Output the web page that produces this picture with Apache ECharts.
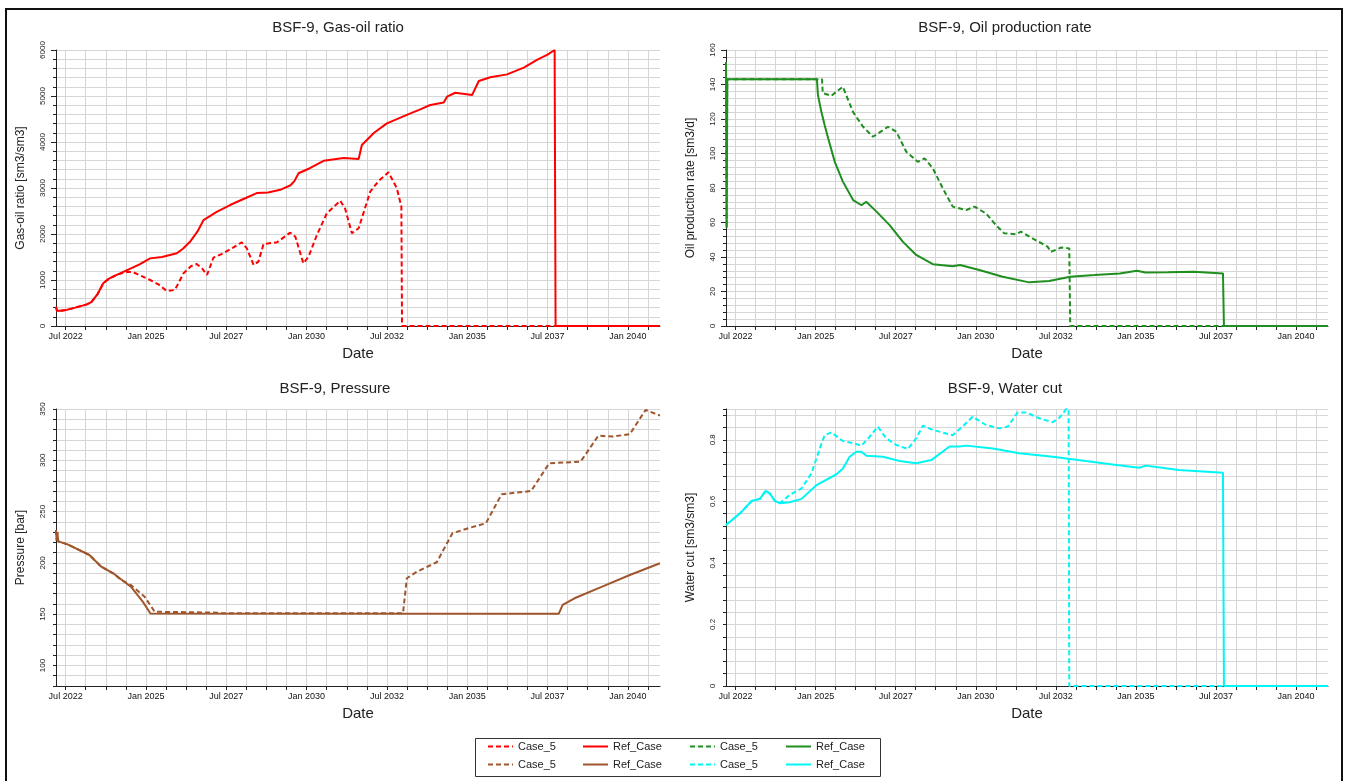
<!DOCTYPE html>
<html>
<head>
<meta charset="utf-8">
<title>BSF-9</title>
<script src="https://cdn.jsdelivr.net/npm/echarts@6/dist/echarts.min.js"></script>
<style>
  html, body { margin: 0; padding: 0; background: #fff; }
  #main { width: 1348px; height: 781px; }
</style>
</head>
<body>
<div id="main"></div>
<script>
// x values are decimal years (Jan = .0, Jul = .5)
const xMin = 2022.2
const xMax = 2041
const xLabelValues = [2022.5, 2025, 2027.5, 2030, 2032.5, 2035, 2037.5, 2040]

// Gas-oil ratio [sm3/sm3]
const gorRef = [
  [2022.2, 420], [2022.23, 330], [2022.35, 330], [2022.53, 350], [2022.8, 400], [2023.16, 470],
  [2023.3, 520], [2023.5, 700], [2023.67, 930], [2023.85, 1030], [2024.09, 1110], [2024.5, 1240],
  [2024.8, 1340], [2025.13, 1470], [2025.5, 1500], [2025.96, 1580], [2026.15, 1680], [2026.37, 1830],
  [2026.6, 2050], [2026.79, 2300], [2027.2, 2480], [2027.62, 2630], [2028.0, 2750], [2028.45, 2890],
  [2028.8, 2900], [2029.18, 2960], [2029.5, 3060], [2029.62, 3150], [2029.75, 3320], [2030.1, 3430],
  [2030.53, 3590], [2031.15, 3650], [2031.62, 3630], [2031.72, 3935], [2032.1, 4200], [2032.5, 4406],
  [2033.12, 4590], [2033.5, 4700], [2033.85, 4805], [2034.27, 4860], [2034.37, 4985], [2034.63, 5070],
  [2035.15, 5020], [2035.36, 5326], [2035.72, 5406], [2036.24, 5470], [2036.76, 5616], [2037.17, 5783],
  [2037.5, 5900], [2037.72, 6000], [2037.75, 0], [2041, 0]
]
const gorCase = [
  [2022.2, 420], [2022.23, 330], [2022.35, 330], [2022.53, 350], [2022.8, 400], [2023.16, 470],
  [2023.3, 520], [2023.5, 700], [2023.67, 930], [2023.85, 1030], [2024.09, 1110], [2024.4, 1180],
  [2024.6, 1170], [2025.13, 1000], [2025.4, 900], [2025.65, 761], [2025.9, 783], [2026.17, 1145],
  [2026.4, 1300], [2026.58, 1348], [2026.75, 1250], [2026.9, 1109], [2027.1, 1485], [2027.41, 1580],
  [2027.7, 1700], [2027.98, 1820], [2028.14, 1689], [2028.35, 1326], [2028.5, 1400], [2028.66, 1783],
  [2029.08, 1820], [2029.49, 2029], [2029.65, 1942], [2029.9, 1362], [2030.06, 1507], [2030.32, 1978],
  [2030.63, 2450], [2031.05, 2724], [2031.2, 2550], [2031.41, 2015], [2031.62, 2124], [2031.98, 2920],
  [2032.24, 3152], [2032.55, 3341], [2032.81, 2993], [2032.95, 2594], [2032.97, 0], [2041, 0]
]

// Oil production rate [sm3/d]
const oilRef = [
  [2022.2, 153], [2022.22, 57], [2022.24, 143], [2025.04, 143], [2025.07, 134], [2025.18, 124],
  [2025.28, 116.5], [2025.39, 108.8], [2025.6, 95], [2025.85, 83.7], [2026.17, 73], [2026.43, 70],
  [2026.58, 72], [2026.9, 66.3], [2027.31, 58.5], [2027.72, 48.9], [2028.14, 41.2], [2028.66, 35.8],
  [2029.28, 34.6], [2029.51, 35.4], [2030.11, 32.5], [2030.84, 28.6], [2031.67, 25.3], [2032.29, 26.1],
  [2032.95, 28.6], [2033.7, 29.5], [2034.5, 30.5], [2035.03, 32], [2035.3, 31], [2035.99, 31.2],
  [2036.8, 31.5], [2037.72, 30.5], [2037.75, 0], [2041, 0]
]
const oilCase = [
  [2022.2, 153], [2022.22, 57], [2022.24, 143], [2025.2, 143], [2025.22, 135], [2025.49, 133.5],
  [2025.85, 138.7], [2025.95, 134], [2026.17, 124], [2026.48, 115.5], [2026.79, 109.7], [2027.26, 115.5],
  [2027.52, 112.6], [2027.83, 101], [2028.19, 95.2], [2028.4, 97.2], [2028.66, 91.4], [2028.97, 79.8],
  [2029.28, 69.2], [2029.7, 67.2], [2029.96, 69.2], [2030.32, 65.3], [2030.63, 58.5], [2030.89, 53.7],
  [2031.26, 53.2], [2031.41, 54.7], [2031.77, 50.8], [2032.24, 46], [2032.35, 43], [2032.67, 45.5],
  [2032.92, 45], [2032.95, 0], [2041, 0]
]

// Pressure [bar]
const presRef = [
  [2022.2, 232], [2022.22, 222], [2022.24, 230], [2022.27, 221], [2022.56, 218], [2023.24, 207.7],
  [2023.61, 196.3], [2023.98, 189.9], [2024.53, 176.8], [2024.9, 162.2], [2025.14, 150.7],
  [2037.85, 150.5], [2037.97, 159], [2038.34, 165.5], [2039.2, 176.8], [2040.06, 188.2], [2041, 199.6]
]
const presCase = [
  [2022.2, 232], [2022.22, 222], [2022.24, 230], [2022.27, 221], [2022.56, 218], [2023.24, 207.7],
  [2023.61, 196.3], [2023.98, 189.9], [2024.2, 184], [2024.55, 178], [2024.96, 167], [2025.27, 152.4],
  [2027.23, 151.5], [2027.3, 150.8], [2033.0, 150.8], [2033.12, 185], [2033.43, 191.4], [2034.05, 200.6],
  [2034.54, 228.9], [2035.03, 233.8], [2035.58, 238.6], [2036.07, 266.9], [2036.99, 270.1], [2037.55, 297.1],
  [2038.53, 298.7], [2039.08, 324], [2039.51, 323.1], [2040.06, 325.4], [2040.55, 349.1], [2041, 343.6]
]

// Water cut [sm3/sm3]
const wcRef = [
  [2022.2, 0.523], [2022.64, 0.561], [2023.0, 0.601], [2023.26, 0.608], [2023.44, 0.634], [2023.57, 0.625],
  [2023.73, 0.601], [2023.88, 0.594], [2024.19, 0.597], [2024.56, 0.608], [2025.03, 0.653], [2025.65, 0.688],
  [2025.85, 0.707], [2026.06, 0.745], [2026.27, 0.761], [2026.43, 0.761], [2026.58, 0.748], [2027.1, 0.745],
  [2027.62, 0.731], [2028.14, 0.724], [2028.61, 0.734], [2029.18, 0.778], [2029.49, 0.778], [2029.7, 0.781],
  [2030.53, 0.772], [2031.36, 0.756], [2032.4, 0.745], [2033.44, 0.731], [2034.27, 0.72], [2035.1, 0.709],
  [2035.31, 0.716], [2036.34, 0.702], [2036.97, 0.698], [2037.72, 0.693], [2037.75, 0], [2041, 0]
]
const wcCase = [
  [2022.2, 0.523], [2022.64, 0.561], [2023.0, 0.601], [2023.26, 0.608], [2023.44, 0.634], [2023.57, 0.625],
  [2023.73, 0.601], [2023.88, 0.594], [2024.19, 0.621], [2024.56, 0.642], [2024.87, 0.691], [2025.13, 0.772],
  [2025.28, 0.815], [2025.49, 0.824], [2025.85, 0.796], [2026.17, 0.789], [2026.43, 0.781], [2026.69, 0.81],
  [2026.94, 0.843], [2027.2, 0.805], [2027.52, 0.783], [2027.88, 0.77], [2028.14, 0.805], [2028.35, 0.846],
  [2028.66, 0.832], [2029.28, 0.815], [2029.59, 0.843], [2029.9, 0.875], [2030.32, 0.848], [2030.74, 0.837],
  [2031.0, 0.843], [2031.31, 0.889], [2031.57, 0.889], [2031.98, 0.87], [2032.4, 0.857], [2032.6, 0.87],
  [2032.83, 0.9], [2032.9, 0.9], [2032.92, 0], [2041, 0]
]

const presLabels = [100, 150, 200, 250, 300, 350]
const wcLabels = [0, 0.2, 0.4, 0.6, 0.8]

// grid lines every 7.5 months on the date axis
const xTicks = []
for (let v = 2022.5; v <= xMax; v += 0.625) xTicks.push(v)
const presTicks = []
for (let v = 80; v <= 350; v += 10) presTicks.push(v)
const wcTicks = []
for (let i = 0; i <= 22; i++) wcTicks.push(+(i * 0.04).toFixed(2))
wcTicks.push(0.9)

const gridColor = '#d6d6d6'
const axisColor = '#222'
const red = '#ff0000'
const green = '#1f8f1f'
const brown = '#a0562c'
const cyan = '#00f5f5'

const chart = echarts.init(document.getElementById('main'))

function fmtDate(v) {
  const y = Math.floor(v + 1e-6)
  return (v - y > 0.25 ? 'Jul ' : 'Jan ') + y
}

function xAxisFor(gridIndex) {
  return {
    type: 'value',
    gridIndex: gridIndex,
    min: xMin,
    max: xMax,
    name: 'Date',
    nameLocation: 'middle',
    nameGap: 20,
    nameTextStyle: { fontSize: 15, color: '#222' },
    axisLine: { show: true, lineStyle: { color: axisColor } },
    axisTick: { show: true, customValues: xTicks, length: 4, lineStyle: { color: axisColor } },
    axisLabel: { customValues: xLabelValues, formatter: fmtDate, fontSize: 9, color: '#111', margin: 6 },
    splitLine: { show: true, lineStyle: { color: gridColor } }
  }
}

function yAxisFor(gridIndex, name, scale) {
  const axis = {
    type: 'value',
    gridIndex: gridIndex,
    name: name,
    nameLocation: 'middle',
    nameGap: 29,
    nameTextStyle: { fontSize: 12, color: '#222' },
    axisLine: { show: true, lineStyle: { color: axisColor } },
    axisTick: { show: true, length: 5, lineStyle: { color: axisColor } },
    axisLabel: { rotate: 90, fontSize: 8, color: '#222', margin: 9, formatter: v => String(v) },
    splitLine: { show: true, lineStyle: { color: gridColor } },
    minorTick: { show: false },
    minorSplitLine: { show: false }
  }
  axis.min = scale.min
  axis.max = scale.max
  if (scale.interval) {
    axis.interval = scale.interval
    axis.minorTick = { show: true, splitNumber: 5, length: 3, lineStyle: { color: axisColor } }
    axis.minorSplitLine = { show: true, lineStyle: { color: gridColor } }
  } else {
    axis.axisTick.customValues = scale.ticks
    axis.axisTick.length = 3
    axis.axisLabel.customValues = scale.labels
  }
  return axis
}

function line(name, data, color, dashed, idx) {
  return {
    name: name,
    type: 'line',
    xAxisIndex: idx,
    yAxisIndex: idx,
    data: data,
    symbol: 'none',
    showSymbol: false,
    clip: true,
    lineStyle: { color: color, width: 2, type: dashed ? [5, 3] : 'solid' },
    itemStyle: { color: color },
    z: dashed ? 3 : 2
  }
}

function legendCol(left, names) {
  return {
    left: left,
    top: 741,
    orient: 'vertical',
    padding: 0,
    itemWidth: 25,
    itemHeight: 12,
    itemGap: 7,
    selectedMode: false,
    data: names,
    formatter: n => n.split(' ')[0],
    itemStyle: { opacity: 0 }, // line only, no symbol in the key
    textStyle: { fontSize: 11, color: '#222' }
  }
}

chart.setOption({
  animation: false,
  backgroundColor: '#fff',
  textStyle: { fontFamily: 'Liberation Sans, Arial, sans-serif' },
  title: [
    { text: 'BSF-9, Gas-oil ratio', left: 338, top: 20, textAlign: 'center', padding: 0,
      textStyle: { fontSize: 15, fontWeight: 'normal', color: '#222' } },
    { text: 'BSF-9, Oil production rate', left: 1005, top: 20, textAlign: 'center', padding: 0,
      textStyle: { fontSize: 15, fontWeight: 'normal', color: '#222' } },
    { text: 'BSF-9, Pressure', left: 335, top: 381, textAlign: 'center', padding: 0,
      textStyle: { fontSize: 15, fontWeight: 'normal', color: '#222' } },
    { text: 'BSF-9, Water cut', left: 1005, top: 381, textAlign: 'center', padding: 0,
      textStyle: { fontSize: 15, fontWeight: 'normal', color: '#222' } }
  ],
  grid: [
    { left: 56, top: 50, width: 604, height: 276 },
    { left: 726, top: 50, width: 602, height: 276 },
    { left: 56, top: 409, width: 604, height: 277 },
    { left: 726, top: 409, width: 602, height: 277 }
  ],
  xAxis: [xAxisFor(0), xAxisFor(1), xAxisFor(2), xAxisFor(3)],
  yAxis: [
    yAxisFor(0, 'Gas-oil ratio [sm3/sm3]', { min: 0, max: 6000, interval: 1000 }),
    yAxisFor(1, 'Oil production rate [sm3/d]', { min: 0, max: 160, interval: 20 }),
    yAxisFor(2, 'Pressure [bar]', { min: 80, max: 350, ticks: presTicks, labels: presLabels }),
    yAxisFor(3, 'Water cut [sm3/sm3]', { min: 0, max: 0.9, ticks: wcTicks, labels: wcLabels })
  ],
  legend: [
    legendCol(487, ['Case_5 GOR', 'Case_5 Pressure']),
    legendCol(582, ['Ref_Case GOR', 'Ref_Case Pressure']),
    legendCol(689, ['Case_5 Oil', 'Case_5 Water']),
    legendCol(785, ['Ref_Case Oil', 'Ref_Case Water'])
  ],
  graphic: [
    { type: 'rect', silent: true, shape: { x: 6, y: 9, width: 1336, height: 790 },
      style: { fill: 'none', stroke: '#111', lineWidth: 2 } },
    { type: 'rect', silent: true, shape: { x: 475.5, y: 738.5, width: 405, height: 38 },
      style: { fill: 'none', stroke: '#333', lineWidth: 1 } }
  ],
  series: [
    line('Case_5 GOR', gorCase, red, true, 0),
    line('Ref_Case GOR', gorRef, red, false, 0),
    line('Case_5 Oil', oilCase, green, true, 1),
    line('Ref_Case Oil', oilRef, green, false, 1),
    line('Case_5 Pressure', presCase, brown, true, 2),
    line('Ref_Case Pressure', presRef, brown, false, 2),
    line('Case_5 Water', wcCase, cyan, true, 3),
    line('Ref_Case Water', wcRef, cyan, false, 3)
  ]
})
</script>
</body>
</html>
